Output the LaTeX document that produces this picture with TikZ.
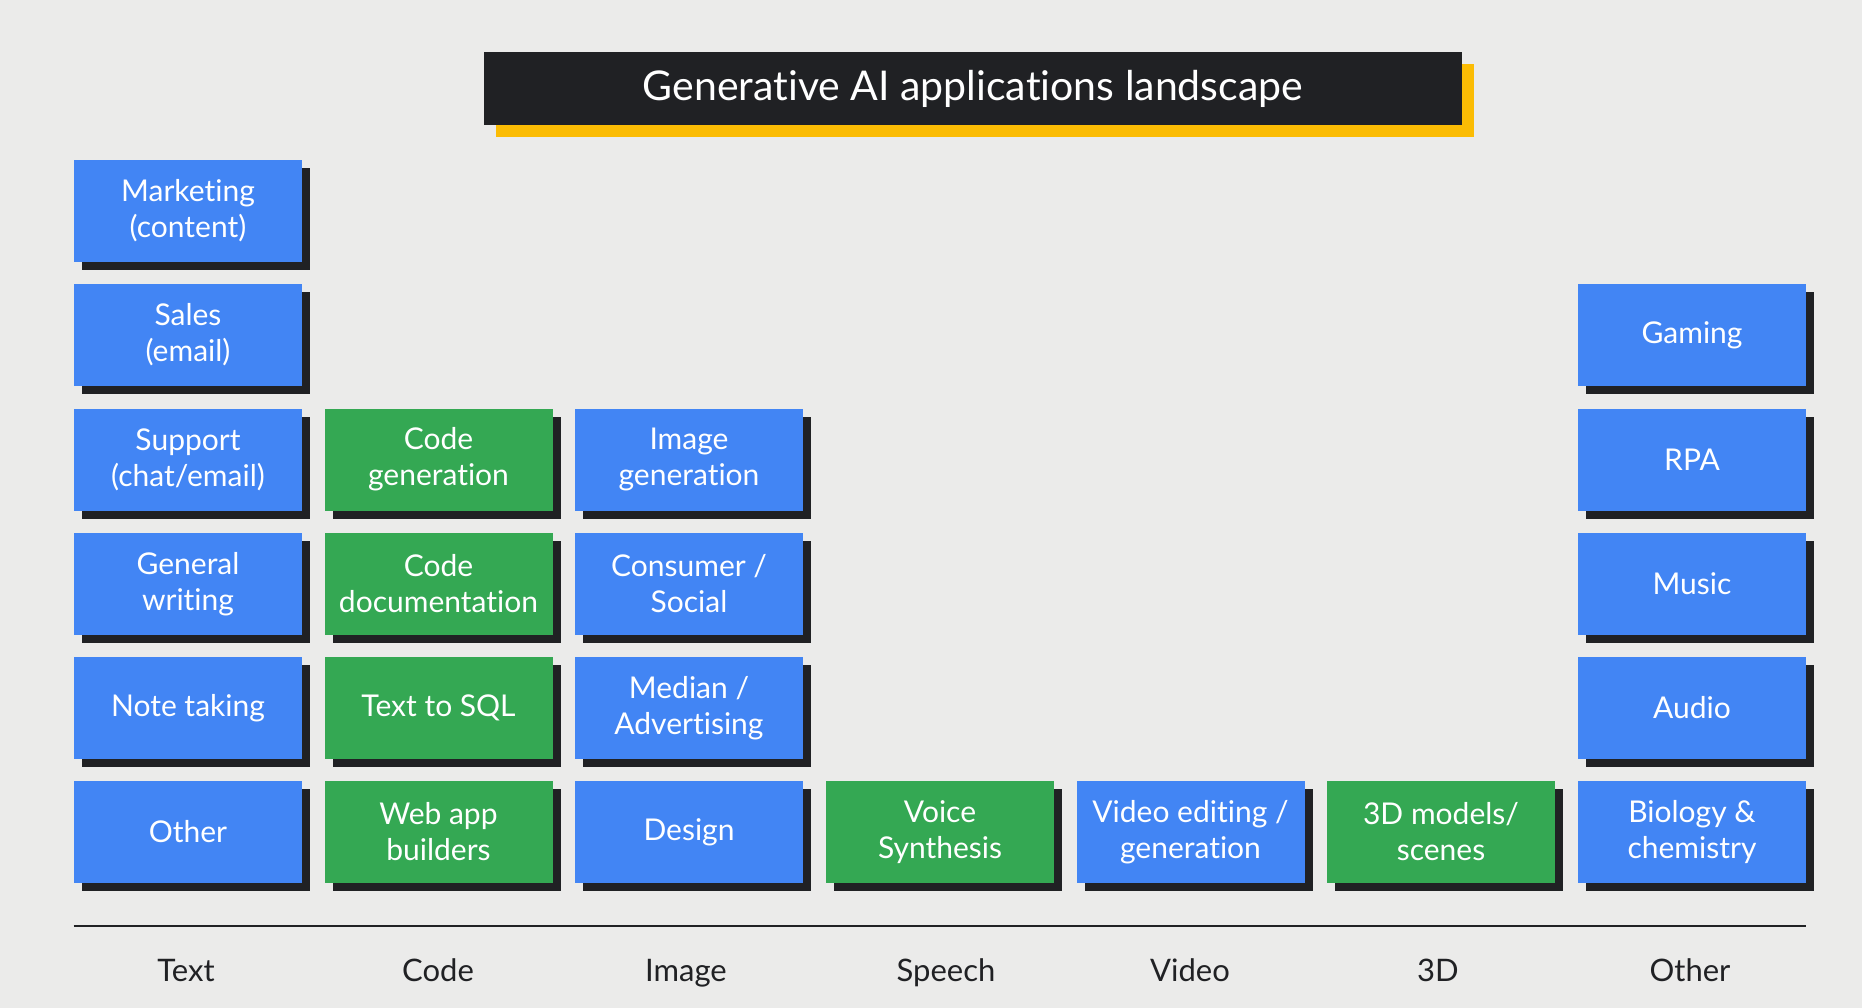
\documentclass[tikz,border=0pt]{standalone}
\usepackage{fontspec}
\setmainfont{Lato}[Ligatures={NoCommon}]
\usetikzlibrary{shadows}
\definecolor{bgc}{HTML}{EBEBEA}
\definecolor{gblue}{HTML}{4285F4}
\definecolor{ggreen}{HTML}{34A853}
\definecolor{gdark}{HTML}{202124}
\definecolor{gyellow}{HTML}{FBBC04}
\tikzset{
  card/.style={minimum width=228pt, minimum height=102pt, inner sep=0pt,
    text=white, align=center, font=\fontsize{30}{36}\selectfont,
    drop shadow={shadow xshift=8pt, shadow yshift=-8pt, fill=gdark, opacity=1}},
  bluecard/.style={card, fill=gblue},
  greencard/.style={card, fill=ggreen},
  catlabel/.style={text=gdark, font=\fontsize{31}{36}\selectfont, inner sep=0pt, anchor=base},
  titlebox/.style={fill=gdark, text=white, minimum width=978pt, minimum height=73pt,
    inner sep=0pt, font=\fontsize{41}{46}\selectfont,
    drop shadow={shadow xshift=12pt, shadow yshift=-12pt, fill=gyellow, opacity=1}}
}
\begin{document}
\begin{tikzpicture}[x=1pt,y=-1pt]
\useasboundingbox[fill=bgc] (0,0) rectangle (1862,1008);
\node[titlebox] (title) at (973,88.5) {Generative AI applications landscape};
% Text column
\node[bluecard] (mkt) at (188,211) {Marketing\\(content)};
\node[bluecard] (sales) at (188,335) {Sales\\(email)};
\node[bluecard] (support) at (188,459.5) {Support\\(chat/email)};
\node[bluecard] (general) at (188,584) {General\\writing};
\node[bluecard] (note) at (188,708) {Note taking};
\node[bluecard] (othertext) at (188,832) {Other};
% Code column
\node[greencard] (codegen) at (438.5,459.5) {Code\\generation};
\node[greencard] (codedoc) at (438.5,584) {Code\\documentation};
\node[greencard] (sql) at (438.5,708) {Text to SQL};
\node[greencard] (webapp) at (438.5,832) {Web app\\builders};
% Image column
\node[bluecard] (imggen) at (689,459.5) {Image\\generation};
\node[bluecard] (consumer) at (689,584) {Consumer /\\Social};
\node[bluecard] (median) at (689,708) {Median /\\Advertising};
\node[bluecard] (design) at (689,832) {Design};
% Speech, Video, 3D
\node[greencard] (voice) at (940,832) {Voice\\Synthesis};
\node[bluecard] (video) at (1190.5,832) {Video editing /\\generation};
\node[greencard] (models) at (1441,832) {3D models/\\scenes};
% Other column
\node[bluecard] (gaming) at (1692,335) {Gaming};
\node[bluecard] (rpa) at (1692,459.5) {RPA};
\node[bluecard] (music) at (1692,584) {Music};
\node[bluecard] (audio) at (1692,708) {Audio};
\node[bluecard] (bio) at (1692,832) {Biology \&\\chemistry};
% axis line
\coordinate (axl) at (73.6,926);
\coordinate (axr) at (1806,926);
\draw[line width=2pt, gdark] (axl) -- (axr);
% category labels
\node[catlabel] (lText) at (186,981) {Text};
\node[catlabel] (lCode) at (438,981) {Code};
\node[catlabel] (lImage) at (686,981) {Image};
\node[catlabel] (lSpeech) at (946,981) {Speech};
\node[catlabel] (lVideo) at (1190,981) {Video};
\node[catlabel] (l3D) at (1438,981) {3D};
\node[catlabel] (lOther) at (1690,981) {Other};
\end{tikzpicture}
\end{document}
